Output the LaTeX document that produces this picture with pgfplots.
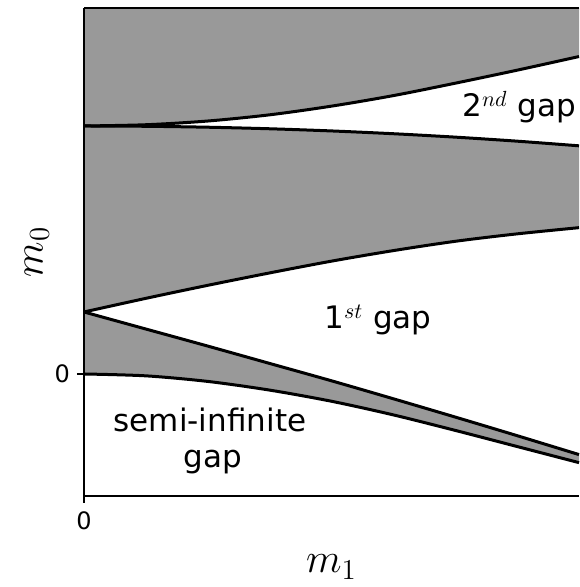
\documentclass[border=0pt]{standalone}
\usepackage{pgfplots}
\pgfplotsset{compat=1.18}
\usepgfplotslibrary{fillbetween}
\usepackage{fontspec}
\setmainfont{DejaVu Sans}
\definecolor{band}{RGB}{153,153,153}

% band edges on an even grid in m1
\newcommand{\edgeE}{(0,4.0) (0.25,4.02) (0.5,4.08) (0.75,4.18) (1.0,4.32) (1.25,4.49) (1.5,4.69) (1.75,4.90) (2.0,5.12)}
\newcommand{\edgeD}{(0,4.0) (0.25,3.995) (0.5,3.98) (0.75,3.955) (1.0,3.92) (1.25,3.875) (1.5,3.82) (1.75,3.755) (2.0,3.68)}
\newcommand{\edgeC}{(0,1.0) (0.25,1.22) (0.5,1.43) (0.75,1.63) (1.0,1.82) (1.25,1.99) (1.5,2.14) (1.75,2.26) (2.0,2.36)}
\newcommand{\edgeB}{(0,1.0) (0.25,0.725) (0.5,0.45) (0.75,0.17) (1.0,-0.11) (1.25,-0.40) (1.5,-0.695) (1.75,-0.995) (2.0,-1.30)}
\newcommand{\edgeA}{(0,0) (0.25,-0.03) (0.5,-0.12) (0.75,-0.26) (1.0,-0.44) (1.25,-0.66) (1.5,-0.91) (1.75,-1.17) (2.0,-1.43)}

\begin{document}
\begin{tikzpicture}
\begin{axis}[
  scale only axis,
  width=247.5pt, height=244pt,
  xmin=0, xmax=2, ymin=-1.968, ymax=5.903,
  axis line style={line width=0.7pt, -},
  axis x line*=bottom, axis y line*=left,
  xtick={0}, ytick={0},
  tick style={line width=0.7pt, black},
  tick align=outside, major tick length=3.5pt,
  /pgf/number format/assume math mode=true,
  ticklabel style={font=\fontsize{12}{14}\selectfont},
  xticklabel style={yshift=-1pt},
  xlabel={$m_1$}, ylabel={$m_0$},
  xlabel style={font=\fontsize{22.5}{26}\selectfont, yshift=-5.5pt},
  ylabel style={font=\fontsize{22.5}{26}\selectfont, yshift=-4pt},
  clip=false,
]
% upper edge of the plot window
\draw[line width=0.7pt] (rel axis cs:0,1) -- (rel axis cs:1,1);
\path[name path=top] (axis cs:0,5.903) -- (axis cs:2,5.903);

\addplot[name path=E, draw=none, smooth] coordinates {\edgeE};
\addplot[name path=D, draw=none, smooth] coordinates {\edgeD};
\addplot[name path=C, draw=none, smooth] coordinates {\edgeC};
\addplot[name path=B, draw=none, smooth] coordinates {\edgeB};
\addplot[name path=A, draw=none, smooth] coordinates {\edgeA};

% allowed bands
\addplot[band, draw=none] fill between[of=E and top];
\addplot[band, draw=none] fill between[of=D and C];
\addplot[band, draw=none] fill between[of=B and A];

% edges drawn over the fills
\addplot[line width=1.5pt, smooth, black] coordinates {\edgeE};
\addplot[line width=1.5pt, smooth, black] coordinates {\edgeD};
\addplot[line width=1.5pt, smooth, black] coordinates {\edgeC};
\addplot[line width=1.5pt, smooth, black] coordinates {\edgeB};
\addplot[line width=1.5pt, smooth, black] coordinates {\edgeA};

\draw[line width=0.7pt] (rel axis cs:0,0) -- (rel axis cs:0,1);

% gap names
\node[font=\fontsize{15.5}{18}\selectfont] at (axis cs:0.509,-0.742) {semi-infinite};
\node[font=\fontsize{15.5}{18}\selectfont] at (axis cs:0.52,-1.42) {gap};
\node[font=\fontsize{15.5}{18}\selectfont] at (axis cs:1.188,0.871) {1$^{st}$ gap};
\node[font=\fontsize{15.5}{18}\selectfont, anchor=west] at (axis cs:1.50,4.30) {2$^{nd}$ gap};
\end{axis}
\pgfresetboundingbox
\path[use as bounding box] (current axis.south west) ++(-42pt,-45.5pt) rectangle ([yshift=4pt]current axis.north east);
\end{tikzpicture}
\end{document}
